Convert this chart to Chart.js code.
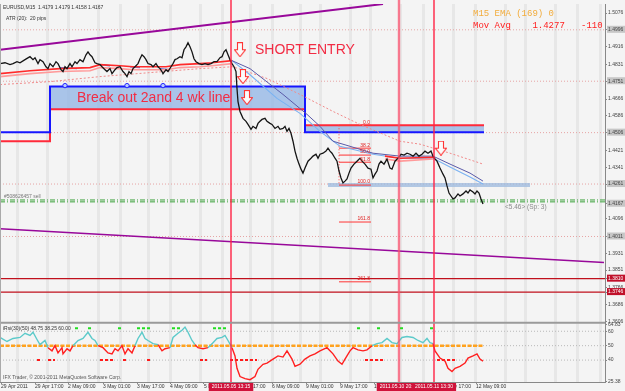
<!DOCTYPE html>
<html>
<head>
<meta charset="utf-8">
<script src="https://cdn.jsdelivr.net/npm/chart.js@4.4.1/dist/chart.umd.min.js"></script>
<style>
  html, body { margin: 0; padding: 0; background: #f4f4f4; }
  #wrap { position: relative; width: 625px; height: 391px; }
</style>
</head>
<body>
<div id="wrap"><canvas id="chart" width="625" height="391"></canvas></div>
<script>
// --- Data (x = bar position on the time axis) ---
const priceBars = [[0,1.4835],[5,1.4839],[10,1.4830],[13,1.4835],[17,1.4844],[20,1.4839],[25,1.4854],[30,1.4868],[33,1.4854],[35,1.4863],[38,1.4835],[40,1.4854],[43,1.4844],[46,1.4820],[48,1.4811],[50,1.4835],[53,1.4820],[56,1.4844],[58,1.4835],[61,1.4806],[63,1.4797],[65,1.4820],[67,1.4811],[70,1.4835],[72,1.4820],[75,1.4844],[77,1.4835],[80,1.4854],[83,1.4844],[86,1.4877],[88,1.4891],[90,1.4877],[92,1.4868],[95,1.4839],[97,1.4835],[100,1.4830],[102,1.4820],[105,1.4806],[107,1.4797],[110,1.4811],[112,1.4787],[115,1.4806],[117,1.4816],[120,1.4820],[123,1.4797],[125,1.4787],[127,1.4773],[129,1.4797],[131,1.4787],[133,1.4811],[135,1.4820],[138,1.4835],[140,1.4858],[142,1.4877],[144,1.4868],[146,1.4854],[148,1.4835],[151,1.4830],[153,1.4820],[156,1.4835],[158,1.4820],[160,1.4811],[162,1.4797],[163,1.4787],[166,1.4806],[168,1.4797],[171,1.4820],[173,1.4835],[175,1.4854],[177,1.4858],[180,1.4868],[182,1.4863],[184,1.4901],[186,1.4915],[188,1.4934],[190,1.4915],[192,1.4891],[194,1.4858],[196,1.4844],[199,1.4835],[202,1.4830],[205,1.4835],[208,1.4830],[211,1.4835],[214,1.4844],[217,1.4844],[220,1.4863],[222,1.4868],[224,1.4891],[226,1.4901],[228,1.4877],[230,1.4854],[232,1.4835],[234,1.4820],[236,1.4797],[237,1.4716],[238,1.4654],[240,1.4607],[243,1.4574],[246,1.4560],[248,1.4545],[251,1.4522],[253,1.4536],[256,1.4526],[258,1.4550],[260,1.4560],[262,1.4569],[265,1.4574],[267,1.4560],[270,1.4550],[272,1.4545],[275,1.4526],[278,1.4536],[280,1.4522],[283,1.4526],[285,1.4536],[287,1.4512],[289,1.4526],[291,1.4503],[293,1.4465],[295,1.4418],[297,1.4384],[299,1.4356],[301,1.4332],[303,1.4313],[305,1.4337],[308,1.4370],[311,1.4384],[313,1.4394],[316,1.4403],[318,1.4384],[320,1.4403],[323,1.4408],[326,1.4418],[328,1.4432],[330,1.4418],[332,1.4408],[335,1.4384],[337,1.4370],[339,1.4323],[341,1.4290],[343,1.4266],[345,1.4275],[347,1.4285],[349,1.4313],[351,1.4337],[354,1.4356],[357,1.4370],[360,1.4384],[362,1.4370],[365,1.4356],[368,1.4337],[371,1.4332],[373,1.4290],[375,1.4308],[377,1.4323],[379,1.4356],[381,1.4370],[384,1.4356],[387,1.4380],[390,1.4337],[392,1.4332],[395,1.4370],[398,1.4384],[401,1.4403],[404,1.4399],[407,1.4408],[410,1.4403],[413,1.4394],[416,1.4408],[419,1.4394],[422,1.4403],[425,1.4418],[428,1.4408],[431,1.4418],[433,1.4394],[435,1.4380],[437,1.4370],[440,1.4337],[443,1.4308],[445,1.4290],[447,1.4252],[449,1.4218],[451,1.4204],[453,1.4190],[455,1.4195],[458,1.4214],[460,1.4204],[463,1.4214],[466,1.4228],[468,1.4218],[470,1.4233],[473,1.4223],[475,1.4214],[477,1.4228],[479,1.4218],[481,1.4190],[483,1.4166]];

// moving averages
const maRed = [[0,1.4787],[30,1.4801],[60,1.4811],[90,1.4816],[100,1.4830],[120,1.4825],[133,1.4820],[166,1.4820],[180,1.4830],[200,1.4835],[212,1.4839],[232,1.4849],null,[385,1.4394],[400,1.4384],[433,1.4389]];
const maPink = [[0,1.4773],[30,1.4787],[60,1.4797],[90,1.4801],[100,1.4816],[120,1.4811],[133,1.4806],[166,1.4806],[180,1.4816],[200,1.4820],[212,1.4825],[232,1.4835],null,[385,1.4380],[400,1.4370],[433,1.4380]];
const maBlueDips = [[60,1.4816],[77,1.4811],null,[100,1.4830],[110,1.4825],null,[130,1.4820],[140,1.4816],null,[160,1.4811],[170,1.4806],null,[198,1.4835],[210,1.4835]];
const maLightBlue = [[232,1.4849],[250,1.4782],[277,1.4669],[300,1.4598],[320,1.4512],[340,1.4441],[373,1.4403],[400,1.4384],[433,1.4384],[450,1.4342],[470,1.4294],[483,1.4261]];
const maSlate = [[232,1.4849],[250,1.4811],[283,1.4688],[307,1.4593],[320,1.4536],[333,1.4465],[373,1.4408],[400,1.4394],[433,1.4394],[450,1.4356],[470,1.4313],[483,1.4275]];
const maSlow = [[0,1.4735],[50,1.4749],[100,1.4773],[150,1.4792],[200,1.4811],[233,1.4820],[267,1.4764],[300,1.4688],[333,1.4607],[360,1.4545],[400,1.4465],[420,1.4451],[450,1.4408],[483,1.4356]];

// breakout channel (stepped)
const channelTimes = [0, 50, 50, 305, 305, 484];
const channelHigh = [1.4508, 1.4508, 1.4726, 1.4726, 1.4508, 1.4508];
const channelLow = [1.4465, 1.4465, 1.4617, 1.4617, 1.4541, 1.4541];
const breakoutDots = [65, 127, 163];
const breakoutDotPrice = 1.4730;

// fibonacci
const fibLevels = [0, 38.2, 50, 61.8, 100, 161.8, 261.8];
const fibPrices = [1.4541, 1.4432, 1.4399, 1.4365, 1.4256, 1.4080, 1.3795];
const fibStart = 339, fibEnd = 371;
const fibBand = [328, 530, 1.4266, 1.4247];

// lines and levels
const upperTrend = [[0, 1.4901], [383, 1.5119]];
const lowerTrend = [[0, 1.4048], [604, 1.3887]];
const levelPrices = [1.4996, 1.4751, 1.4506, 1.4261, 1.4011];
const stopPrices = [1.3810, 1.3746];
const orderPrices = [1.4185, 1.4176];
const signalArrows = [[240, 1.4901], [243, 1.4773], [247, 1.4673], [441, 1.4432]];

// axes
const priceTicks = [1.5076, 1.4996, 1.4916, 1.4831, 1.4751, 1.4666, 1.4586, 1.4506, 1.4421, 1.4341, 1.4261, 1.4167, 1.4096, 1.4011, 1.3931, 1.3851, 1.3810, 1.3766, 1.3746, 1.3686, 1.3606];
const boxedTicks = [1.4996, 1.4751, 1.4506, 1.4261, 1.4167, 1.4011];
const redTicks = [1.3810, 1.3746];
const rsiTicks = [64.83, 60, 50, 40, 25.38];
const timeTickPos = [1, 35, 68, 103, 137, 170, 204, 238, 272, 306, 340, 374, 407, 441, 476];
const timeLabels = ['29 Apr 2011', '29 Apr 17:00', '2 May 09:00', '3 May 01:00', '3 May 17:00', '4 May 09:00', '5 May 01:00', '5 May 17:00', '6 May 09:00', '9 May 01:00', '9 May 17:00', '10 May 09:00', '11 May 01:00', '11 May 17:00', '12 May 09:00'];
const gridTimes = [17, 47, 68, 98, 120, 148, 170, 200, 222, 250, 272, 300, 320, 350, 370, 400, 423, 453, 475, 505, 525, 555, 577, 600];
const markTimes = [231, 399, 434];
const markLabels = ['2011.05.05 13:15', '2011.05.10 20:45', '2011.05.11 13:30'];

// rsi sub window
const rsiBars = [[0,55.7],[7,52.9],[13,55.0],[20,55.7],[25,58.6],[30,57.1],[33,59.3],[37,54.3],[40,50.7],[45,53.6],[48,48.6],[52,46.4],[55,50.0],[58,45.0],[62,48.6],[63,44.3],[67,47.9],[70,46.4],[73,50.0],[78,53.6],[83,55.0],[88,59.3],[92,55.0],[95,53.6],[98,50.0],[103,48.6],[108,45.0],[112,44.3],[115,47.9],[118,46.4],[122,50.0],[125,44.3],[128,47.9],[132,45.0],[135,50.0],[138,55.0],[142,59.3],[145,55.0],[148,53.6],[153,51.4],[158,50.7],[162,46.4],[165,47.9],[170,48.6],[173,55.7],[178,58.6],[182,60.7],[185,62.9],[188,59.3],[192,53.6],[195,50.7],[198,48.6],[203,47.9],[208,48.6],[213,52.1],[217,55.0],[222,55.7],[225,57.1],[228,53.6],[232,48.6],[235,42.9],[237,34.3],[240,28.6],[245,27.1],[250,26.4],[255,28.6],[258,33.6],[263,37.1],[267,37.9],[273,40.7],[278,42.9],[283,42.1],[287,46.4],[292,40.7],[295,35.7],[300,37.1],[305,40.7],[310,42.9],[315,44.3],[320,46.4],[327,48.6],[333,44.3],[338,39.3],[342,37.1],[345,40.7],[350,46.4],[353,48.6],[358,47.1],[363,46.4],[367,47.1],[372,50.0],[377,51.4],[382,52.1],[387,55.0],[392,52.1],[397,51.4],[402,55.7],[407,56.4],[413,55.7],[418,53.6],[423,52.1],[427,55.0],[430,52.1],[433,51.4],[435,46.4],[440,41.4],[445,39.3],[448,34.3],[452,32.1],[455,34.3],[460,35.7],[465,37.9],[468,41.4],[473,42.9],[477,44.3],[480,40.7],[483,39.3]];
const rsiLevels = [60, 50, 40];
const rsiMidRange = [0, 483];
const rsiUpSignals = [[75,78],[88,92],[118,122],[137,150],[172,182],[213,228],[357,360],[377,382],[400,403],[430,433]];
const rsiDownSignals = [[37,42],[48,55],[100,113],[123,127],[147,152],[200,207],[230,257],[365,383],[437,457]];
const rsiUpLevel = 62, rsiDownLevel = 40;

// --- helpers ---
const pts = arr => arr.map(p => p ? { x: p[0], y: p[1] } : { x: null, y: null });
const hline = (v, x0, x1) => [{ x: x0, y: v }, { x: x1, y: v }];
function rangesToPoints(ranges, level) {
    const out = [];
    ranges.forEach(([a, b]) => { out.push({ x: a, y: level }, { x: b, y: level }, { x: b, y: null }); });
    return out;
}
function makeArrow() {
    const c = document.createElement('canvas');
    c.width = 12; c.height = 15;
    const g = c.getContext('2d');
    g.beginPath();
    g.moveTo(3.5, 0.5); g.lineTo(8.5, 0.5); g.lineTo(8.5, 7.5); g.lineTo(11.5, 7.5);
    g.lineTo(6, 14.5); g.lineTo(0.5, 7.5); g.lineTo(3.5, 7.5); g.closePath();
    g.fillStyle = '#fbfbfb'; g.fill();
    g.strokeStyle = '#ff3535'; g.lineWidth = 1.1; g.stroke();
    return c;
}

// --- datasets (first = drawn on top) ---
const datasets = [];
function add(data, style, axis) {
    datasets.push(Object.assign({
        data, yAxisID: axis || 'y', xAxisID: 'x', pointRadius: 0, borderWidth: 1, fill: false, spanGaps: false,
    }, style));
}

add(pts(signalArrows), { showLine: false, pointRadius: 6, pointStyle: makeArrow() });
add(breakoutDots.map(t => ({ x: t, y: breakoutDotPrice })), { showLine: false, pointRadius: 2.2, pointStyle: 'circle', borderColor: '#2424ff', backgroundColor: '#b8ccff', borderWidth: 1 });
add(pts(priceBars), { borderColor: '#151515', borderWidth: 1.3 });
add(pts(maRed), { borderColor: '#ff2a2a', borderWidth: 1.6 });
add(pts(maPink), { borderColor: '#ff9a9a', borderWidth: 1.6 });
add(pts(maBlueDips), { borderColor: '#5a78d8', borderWidth: 1.4 });
add(pts(maSlate), { borderColor: '#5a5aa8', borderWidth: 1 });
add(pts(maLightBlue), { borderColor: '#7ab2f2', borderWidth: 1.1 });
add(pts(maSlow), { borderColor: '#f08a8a', borderWidth: 1, borderDash: [2, 2] });
fibPrices.forEach(p => add(hline(p, fibStart, fibEnd), { borderColor: '#ff3434', borderWidth: 1 }));
add([{ x: fibStart, y: fibPrices[0] }, { x: fibStart, y: fibPrices[4] }], { borderColor: '#ff4040', borderWidth: 1, borderDash: [1, 2] });
add(channelTimes.map((t, i) => ({ x: t, y: channelHigh[i] })), { borderColor: '#1616ff', borderWidth: 2 });
add(channelTimes.map((t, i) => ({ x: t, y: channelLow[i] })), { borderColor: '#ff2a3a', borderWidth: 2 });
// channel fills
add(hline(channelHigh[2], channelTimes[1], channelTimes[3]), { borderWidth: 0, fill: '+1', backgroundColor: 'rgba(140,178,228,0.72)' });
add(hline(channelLow[2], channelTimes[1], channelTimes[3]), { borderWidth: 0 });
add(hline(channelLow[4], channelTimes[3], channelTimes[5]), { borderWidth: 0, fill: '+1', backgroundColor: 'rgba(140,178,228,0.72)' });
add(hline(channelHigh[4], channelTimes[3], channelTimes[5]), { borderWidth: 0 });
add(hline(fibBand[2], fibBand[0], fibBand[1]), { borderWidth: 0, fill: '+1', backgroundColor: 'rgba(160,188,222,0.8)' });
add(hline(fibBand[3], fibBand[0], fibBand[1]), { borderWidth: 0 });
stopPrices.forEach(p => add(hline(p, 0, 605), { borderColor: '#c0101c', borderWidth: 1.4 }));
orderPrices.forEach(p => add(hline(p, 0, 605), { borderColor: '#3aa03a', borderWidth: 1, borderDash: [5, 2, 1, 2] }));
add(pts(upperTrend), { borderColor: '#98089a', borderWidth: 2 });
add(pts(lowerTrend), { borderColor: '#98089a', borderWidth: 1.6 });
levelPrices.forEach(p => add(hline(p, 0, 605), { borderColor: '#e6a4a4', borderWidth: 1, borderDash: [1, 2] }));

// rsi pane
add(pts(rsiBars), {
    borderWidth: 1.4,
    segment: { borderColor: c => (c.p0.parsed.y + c.p1.parsed.y) / 2 >= 50 ? '#5ccaca' : '#ff2020' },
}, 'rsi');
add(hline(50, rsiMidRange[0], rsiMidRange[1]), { borderColor: '#ffa21e', borderWidth: 2.5, borderDash: [4, 1.5] }, 'rsi');
add(rangesToPoints(rsiUpSignals, rsiUpLevel), { borderColor: '#22dd22', borderWidth: 2, borderDash: [3, 2] }, 'rsi');
add(rangesToPoints(rsiDownSignals, rsiDownLevel), { borderColor: '#ff1a1a', borderWidth: 2, borderDash: [3, 2] }, 'rsi');
rsiLevels.forEach(v => add(hline(v, 0, 605), { borderColor: '#b8b8b8', borderWidth: 1, borderDash: [1, 2] }, 'rsi'));

// --- decorations: grid bands, labels, marker lines ---
const decor = {
    id: 'decor',
    beforeDatasetsDraw(chart) {
        const { ctx, scales: { x, y, rsi } } = chart;
        ctx.save();
        ctx.strokeStyle = 'rgba(0,0,0,0.05)';
        ctx.lineWidth = 3;
        gridTimes.forEach(t => {
            const px = Math.round(x.getPixelForValue(t)) + 0.5;
            ctx.beginPath(); ctx.moveTo(px, y.top); ctx.lineTo(px, rsi.bottom); ctx.stroke();
        });
        ctx.restore();
    },
    afterDatasetsDraw(chart) {
        const { ctx, scales: { x, y, rsi } } = chart;
        ctx.save();

        // fib labels
        ctx.font = '5px "Liberation Sans"';
        ctx.fillStyle = '#e02020';
        ctx.textAlign = 'right';
        ctx.textBaseline = 'bottom';
        fibLevels.forEach((lv, i) => {
            ctx.fillText(lv.toFixed(1), x.getPixelForValue(fibEnd) - 1, y.getPixelForValue(fibPrices[i]) - 0.5);
        });

        // big annotations
        ctx.font = '14px "Liberation Sans"';
        ctx.fillStyle = '#f22c44';
        ctx.textAlign = 'left';
        ctx.textBaseline = 'middle';
        ctx.fillText('SHORT ENTRY', x.getPixelForValue(255), y.getPixelForValue(1.4901));
        ctx.fillText('Break out 2and 4 wk line', x.getPixelForValue(77), y.getPixelForValue(1.4671));

        // small chart texts
        ctx.font = '5px "Liberation Sans"';
        ctx.fillStyle = '#333';
        ctx.fillText('EURUSD,M15  1.4179 1.4179 1.4158 1.4167', x.left + 3, y.top + 4);
        ctx.fillText('ATR (20):  20 pips', x.left + 6, y.top + 15);
        ctx.fillStyle = '#777';
        ctx.fillText('#508626457 sell', x.left + 4, y.getPixelForValue(orderPrices[0]) - 3);
        ctx.font = '6.5px "Liberation Sans"';
        ctx.fillStyle = '#8a8a8a';
        ctx.fillText('<5.46> (Sp: 3)', x.getPixelForValue(505), y.getPixelForValue(1.4152));

        ctx.font = '9px "Liberation Mono"';
        ctx.fillStyle = '#f2ac3c';
        ctx.fillText('M15 EMA (169) 0', x.getPixelForValue(473), y.top + 10);
        ctx.fillStyle = '#ff2020';
        ctx.fillText('Mov Avg    1.4277   -110', x.getPixelForValue(473), y.top + 22);

        ctx.font = '5px "Liberation Sans"';
        ctx.fillStyle = '#333';
        ctx.fillText('iRsi(30)(50) 48.75 38.25 60.00', x.left + 3, rsi.top + 6);
        ctx.fillStyle = '#555';
        ctx.fillText('IFX Trader, \u00a9 2001-2011 MetaQuotes Software Corp.', x.left + 3, rsi.bottom - 4);

        // marker verticals through both panes
        markTimes.forEach((t, i) => {
            const px = x.getPixelForValue(t);
            ctx.strokeStyle = i === 1 ? 'rgba(250,80,110,0.75)' : '#ff2244';
            ctx.lineWidth = i === 1 ? 2.4 : 1.4;
            ctx.beginPath(); ctx.moveTo(px, 0); ctx.lineTo(px, rsi.bottom); ctx.stroke();
        });

        // frame and pane separator
        ctx.strokeStyle = '#9a9a9a';
        ctx.lineWidth = 2;
        ctx.beginPath(); ctx.moveTo(x.left, y.bottom + 0.5); ctx.lineTo(x.right, y.bottom + 0.5); ctx.stroke();
        ctx.lineWidth = 1;
        ctx.strokeStyle = '#aaa';
        ctx.beginPath(); ctx.moveTo(x.left + 0.5, y.top); ctx.lineTo(x.left + 0.5, rsi.bottom); ctx.stroke();
        ctx.restore();
    },
    afterDraw(chart) {
        const { ctx, scales: { x } } = chart;
        ctx.save();
        ctx.font = '5px "Liberation Sans"';
        ctx.textAlign = 'center';
        ctx.textBaseline = 'middle';
        markTimes.forEach((t, i) => {
            const px = x.getPixelForValue(t);
            const w = ctx.measureText(markLabels[i]).width + 6;
            ctx.fillStyle = '#d0123a';
            ctx.fillRect(px - w / 2, x.top + 1, w, 8);
            ctx.fillStyle = '#fff';
            ctx.fillText(markLabels[i], px, x.top + 5);
        });
        ctx.restore();
    },
};

// --- Chart ---
Chart.defaults.font.family = '"Liberation Sans", Arial, sans-serif';

const axisTicks = {
    font: { size: 5 },
    padding: 1,
    autoSkip: false,
    showLabelBackdrop: true,
    backdropPadding: { top: 1, bottom: 0, left: 1, right: 2 },
};

const chart = new Chart(document.getElementById('chart').getContext('2d'), {
    type: 'line',
    data: { datasets },
    plugins: [decor],
    options: {
        responsive: false,
        animation: false,
        devicePixelRatio: 1,
        layout: { autoPadding: false, padding: { top: 2, left: 0, right: 0, bottom: 0 } },
        plugins: { legend: { display: false }, tooltip: { enabled: false } },
        elements: { line: { tension: 0 }, point: { radius: 0 } },
        scales: {
            x: {
                type: 'linear', min: 0, max: 605,
                afterBuildTicks: s => { s.ticks = timeTickPos.map(v => ({ value: v })); },
                afterFit: s => { s.height = 9; },
                grid: { drawOnChartArea: false, tickLength: 2, color: '#888' },
                border: { color: '#888' },
                ticks: { font: { size: 5 }, color: '#333', padding: 0, align: 'start', autoSkip: false, maxRotation: 0, callback: (v, i) => timeLabels[i] },
            },
            y: {
                type: 'linear', position: 'right', stack: 'panes', stackWeight: 320,
                min: 1.3602, max: 1.5119,
                afterBuildTicks: s => { s.ticks = priceTicks.map(v => ({ value: v })); },
                afterFit: s => { s.width = 20; },
                grid: { drawOnChartArea: false, tickLength: 2, color: '#888' },
                border: { color: '#888' },
                ticks: {
                    ...axisTicks,
                    callback: v => v.toFixed(4),
                    color: c => redTicks.includes(c.tick.value) ? '#fff' : '#444',
                    backdropColor: c => redTicks.includes(c.tick.value) ? '#c0102a'
                        : boxedTicks.includes(c.tick.value) ? '#c6c6c6' : 'rgba(0,0,0,0)',
                },
            },
            rsi: {
                type: 'linear', position: 'right', stack: 'panes', stackWeight: 60,
                min: 24.8, max: 66.2,
                afterBuildTicks: s => { s.ticks = rsiTicks.map(v => ({ value: v })); },
                afterFit: s => { s.width = 20; },
                grid: { drawOnChartArea: false, tickLength: 2, color: '#888' },
                border: { color: '#888' },
                ticks: { ...axisTicks, color: '#444', backdropColor: 'rgba(0,0,0,0)', callback: v => String(v) },
            },
        },
    },
});
</script>
</body>
</html>
